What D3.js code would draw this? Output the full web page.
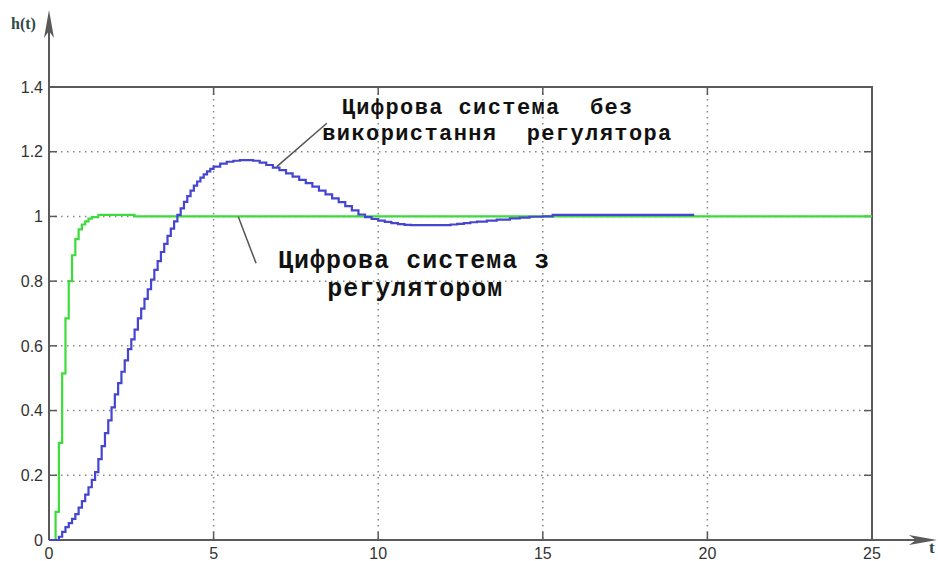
<!DOCTYPE html>
<html>
<head>
<meta charset="utf-8">
<script src="https://cdn.jsdelivr.net/npm/d3@7"></script>
<style>
  body { margin: 0; background: #fff; }
  svg { display: block; }
</style>
</head>
<body>
<main></main>
<script>
// tick labels
const xTicks = [0, 5, 10, 15, 20, 25];
const yTicks = [0, 0.2, 0.4, 0.6, 0.8, 1, 1.2, 1.4];

// digital system with controller (green)
const greenTime  = [0, 0.2, 0.3, 0.4, 0.5, 0.6, 0.7, 0.8, 0.9, 1.0, 1.1, 1.2, 1.3, 1.5, 2.6, 25];
const greenValue = [0, 0.087, 0.30, 0.515, 0.685, 0.80, 0.88, 0.93, 0.96, 0.975, 0.985, 0.993, 0.998, 1.005, 1.0, 1.0];

// digital system without controller (blue)
const blueTime = [0,
  0.3, 0.4, 0.5, 0.6, 0.7, 0.8, 0.9, 1.0, 1.1, 1.2,
  1.3, 1.4, 1.5, 1.6, 1.7, 1.8, 1.9, 2.0, 2.1, 2.2,
  2.3, 2.4, 2.5, 2.6, 2.7, 2.8, 2.9, 3.0, 3.1, 3.2,
  3.3, 3.4, 3.5, 3.6, 3.7, 3.8, 3.9, 4.0, 4.1, 4.2,
  4.3, 4.4, 4.5, 4.6, 4.7, 4.8, 4.9, 5.0,
  5.2, 5.4, 5.6, 5.8, 6.0, 6.2, 6.4, 6.6, 6.8, 7.0,
  7.2, 7.4, 7.6, 7.8, 8.0, 8.2, 8.4, 8.6, 8.8, 9.0,
  9.2, 9.4, 9.6, 9.8, 10.0, 10.2, 10.4, 10.6, 10.8, 11.0,
  12.0, 12.2, 12.4, 12.6, 12.8, 13.0,
  13.3, 13.6, 14.0, 14.3, 14.6, 15.0, 15.3, 19.6];
const blueValue = [0,
  0.01, 0.025, 0.04, 0.052, 0.065, 0.08, 0.10, 0.12, 0.14, 0.163,
  0.186, 0.21, 0.25, 0.29, 0.33, 0.37, 0.41, 0.45, 0.485, 0.52,
  0.555, 0.59, 0.62, 0.65, 0.685, 0.715, 0.745, 0.775, 0.805, 0.835,
  0.862, 0.89, 0.915, 0.94, 0.962, 0.985, 1.005, 1.025, 1.045, 1.063,
  1.08, 1.095, 1.108, 1.12, 1.13, 1.139, 1.147, 1.154,
  1.163, 1.169, 1.172, 1.174, 1.174, 1.172, 1.166, 1.159, 1.151, 1.143,
  1.133, 1.123, 1.113, 1.103, 1.092, 1.080, 1.068, 1.056, 1.044, 1.032,
  1.019, 1.006, 0.998, 0.992, 0.987, 0.983, 0.979, 0.976, 0.974, 0.973,
  0.973, 0.975, 0.977, 0.979, 0.982, 0.984,
  0.987, 0.99, 0.994, 0.996, 0.999, 1.0, 1.005, 1.005];

const W = 938, H = 561;
const plotL = 49, plotR = 872, plotT = 87, plotB = 540;

const x = d3.scaleLinear().domain([0, 25]).range([plotL, plotR]);
const y = d3.scaleLinear().domain([0, 1.4]).range([plotB, plotT]);

const svg = d3.select('main').append('svg')
  .attr('width', W)
  .attr('height', H);

const axisColor = '#5a5a5a';

// dotted grid
svg.append('g').selectAll('line')
  .data(xTicks.filter(d => d > 0 && d < 25))
  .enter().append('line')
  .attr('x1', d => x(d)).attr('x2', d => x(d))
  .attr('y1', plotT).attr('y2', plotB)
  .attr('stroke', '#888').attr('stroke-width', 1.5)
  .attr('stroke-dasharray', '1.5 4.5');

svg.append('g').selectAll('line')
  .data(yTicks.filter(d => d > 0 && d < 1.4))
  .enter().append('line')
  .attr('x1', plotL).attr('x2', plotR)
  .attr('y1', d => y(d)).attr('y2', d => y(d))
  .attr('stroke', '#888').attr('stroke-width', 1.5)
  .attr('stroke-dasharray', '1.5 4.5');

// frame: top and right borders
svg.append('path')
  .attr('d', `M${plotL},${plotT}H${plotR}V${plotB}`)
  .attr('fill', 'none').attr('stroke', axisColor).attr('stroke-width', 2);

// inward ticks on all sides
const tk = 8;
const tickG = svg.append('g').attr('stroke', axisColor).attr('stroke-width', 1.5);
xTicks.filter(d => d > 0 && d < 25).forEach(d => {
  tickG.append('line').attr('x1', x(d)).attr('x2', x(d)).attr('y1', plotB).attr('y2', plotB - tk);
  tickG.append('line').attr('x1', x(d)).attr('x2', x(d)).attr('y1', plotT).attr('y2', plotT + tk);
});
yTicks.filter(d => d > 0 && d < 1.4).forEach(d => {
  tickG.append('line').attr('x1', plotL).attr('x2', plotL + tk).attr('y1', y(d)).attr('y2', y(d));
  tickG.append('line').attr('x1', plotR).attr('x2', plotR - tk).attr('y1', y(d)).attr('y2', y(d));
});

// axis lines with arrows
svg.append('line')
  .attr('x1', plotL).attr('x2', plotL).attr('y1', plotB).attr('y2', 16)
  .attr('stroke', axisColor).attr('stroke-width', 2);
svg.append('path')
  .attr('d', `M${plotL},10 L${plotL - 5},38 L${plotL},31 L${plotL + 5},38 Z`)
  .attr('fill', axisColor);
svg.append('line')
  .attr('x1', plotL).attr('x2', 932).attr('y1', plotB).attr('y2', plotB)
  .attr('stroke', axisColor).attr('stroke-width', 2);
svg.append('path')
  .attr('d', `M937,${plotB} L909,${plotB - 5} L916,${plotB} L909,${plotB + 5} Z`)
  .attr('fill', axisColor);

// tick labels
svg.append('g').selectAll('text')
  .data(xTicks)
  .enter().append('text')
  .attr('x', d => x(d)).attr('y', 559)
  .attr('text-anchor', 'middle')
  .attr('font-family', 'Liberation Sans, Arial, sans-serif')
  .attr('font-size', 16).attr('fill', '#333')
  .text(d => d);

svg.append('g').selectAll('text')
  .data(yTicks)
  .enter().append('text')
  .attr('x', 43).attr('y', d => y(d))
  .attr('dy', '0.36em')
  .attr('text-anchor', 'end')
  .attr('font-family', 'Liberation Sans, Arial, sans-serif')
  .attr('font-size', 16).attr('fill', '#333')
  .text(d => d);

// axis names
svg.append('text')
  .attr('x', 11).attr('y', 29)
  .attr('font-family', 'Liberation Serif, Times New Roman, serif')
  .attr('font-weight', 'bold').attr('font-size', 16).attr('fill', '#2f4a4a')
  .text('h(t)');
svg.append('text')
  .attr('x', 929).attr('y', 553)
  .attr('font-family', 'Liberation Serif, Times New Roman, serif')
  .attr('font-weight', 'bold').attr('font-size', 17).attr('fill', '#2f4a4a')
  .text('t');

// response curves
const line = d3.line()
  .x(d => x(d[0]))
  .y(d => y(d[1]))
  .curve(d3.curveStepAfter);

const green = greenTime.map((t, i) => [t, greenValue[i]]);
const blue = blueTime.map((t, i) => [t, blueValue[i]]);

svg.append('path')
  .attr('d', line(green))
  .attr('fill', 'none').attr('stroke', '#3ddc3d').attr('stroke-width', 2.2);

svg.append('path')
  .attr('d', line(blue))
  .attr('fill', 'none').attr('stroke', '#4545d2').attr('stroke-width', 2.2);

// annotations
const annFont = 'Liberation Mono, Courier New, monospace';
svg.append('line')
  .attr('x1', x(6.92)).attr('y1', y(1.154))
  .attr('x2', x(8.44)).attr('y2', y(1.288))
  .attr('stroke', '#555').attr('stroke-width', 1.5);
svg.append('text')
  .attr('x', x(8.89)).attr('y', y(1.318))
  .attr('font-family', annFont).attr('font-weight', 'bold')
  .attr('font-size', 22).attr('letter-spacing', 1.4).attr('fill', '#111')
  .attr('xml:space', 'preserve')
  .text('Цифрова система  без');
svg.append('text')
  .attr('x', x(8.3)).attr('y', y(1.236))
  .attr('font-family', annFont).attr('font-weight', 'bold')
  .attr('font-size', 22).attr('letter-spacing', 1.4).attr('fill', '#111')
  .attr('xml:space', 'preserve')
  .text('використання  регулятора');

svg.append('line')
  .attr('x1', x(5.75)).attr('y1', y(0.999))
  .attr('x2', x(6.29)).attr('y2', y(0.855))
  .attr('stroke', '#555').attr('stroke-width', 1.5);
svg.append('text')
  .attr('x', x(6.96)).attr('y', y(0.84))
  .attr('font-family', annFont).attr('font-weight', 'bold')
  .attr('font-size', 25).attr('letter-spacing', 1).attr('fill', '#111')
  .text('Цифрова система з');
svg.append('text')
  .attr('x', x(8.45)).attr('y', y(0.754))
  .attr('font-family', annFont).attr('font-weight', 'bold')
  .attr('font-size', 25).attr('letter-spacing', 1).attr('fill', '#111')
  .text('регулятором');
</script>
</body>
</html>
